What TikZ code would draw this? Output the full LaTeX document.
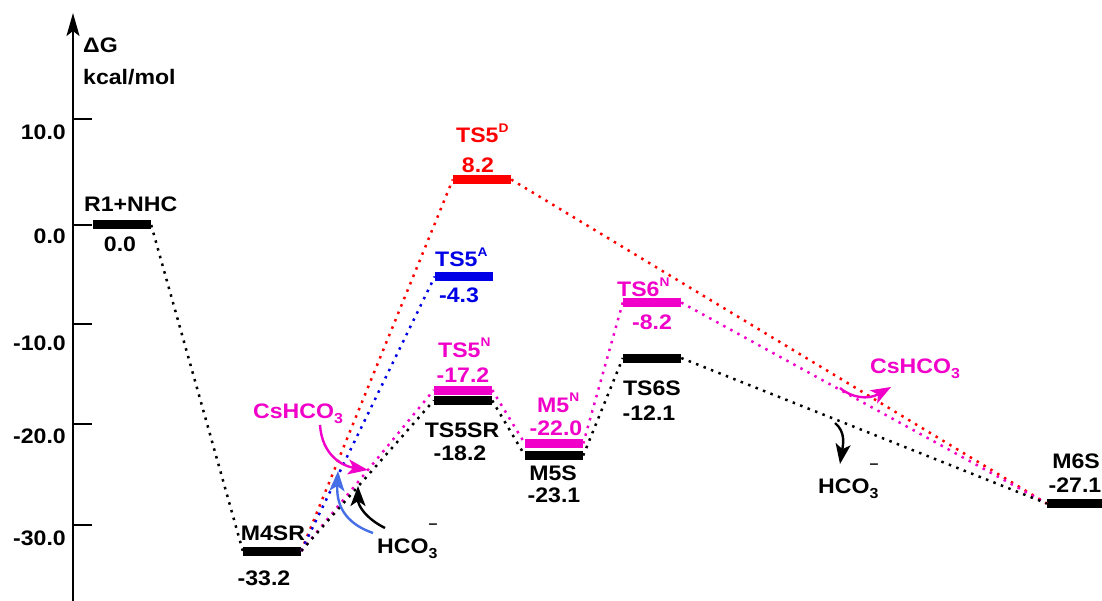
\documentclass[tikz,border=0pt]{standalone}
\usepackage{fontspec}
\setmainfont{Liberation Sans}[FakeStretch=1.1]
\usetikzlibrary{arrows.meta}
\definecolor{cred}{RGB}{255,0,0}
\definecolor{cpink}{RGB}{240,0,200}
\definecolor{cblue}{RGB}{0,0,230}
\definecolor{clblue}{RGB}{70,110,230}
\newcommand\supx[1]{\raisebox{0.5em}{\fontsize{12.5}{12.5}\selectfont #1}}
\newcommand\subx[1]{\raisebox{-0.28em}{\fontsize{14.5}{14.5}\selectfont #1}}
\newcommand\anion{HCO\rlap{\subx{3}}\raisebox{1.15em}{\fontsize{14.5}{14.5}\selectfont –}}
\begin{document}
\begin{tikzpicture}[x=1pt,y=-1pt,
  font=\fontsize{21}{25}\selectfont\bfseries,
  bar/.style={fill, draw=none, inner sep=0pt, minimum width=58pt, minimum height=9pt},
  lbl/.style={inner sep=0pt, anchor=base},
  lblw/.style={inner sep=0pt, anchor=base west},
  dots/.style={line width=2.5pt, dash pattern=on 2.5pt off 5.5pt},
  curv/.style={line width=2.4pt, -{Stealth[length=20pt,width=15pt,inset=5pt]}},
  axisline/.style={line width=2.2pt, -{Stealth[length=23pt,width=13pt,inset=5pt]}},
  tickline/.style={line width=2pt}]
\useasboundingbox (0,0) rectangle (1102,601);

% axis
\coordinate (axb) at (73,601);
\coordinate (axt) at (73,13);
\draw[axisline] (axb) -- (axt);
\foreach \yy/\lab/\ly in {119/10.0/140, 225/0.0/244, 324/-10.0/350, 424/-20.0/443, 525/-30.0/545}{
  \coordinate (ta\yy) at (73,\yy);
  \coordinate (tb\yy) at (92,\yy);
  \draw[tickline] (ta\yy) -- (tb\yy);
  \node[inner sep=0pt, anchor=base east] (tl\yy) at (66,\ly) {\lab};
}
\node[lblw] (dg) at (83,53) {ΔG};
\node[lblw] (unit) at (83,85) {kcal/mol};

% bars
\node[bar] (r1) at (122,225) {};
\node[bar] (m4sr) at (272,551) {};
\node[bar, fill=cred] (ts5d) at (482,179.5) {};
\node[bar, fill=cblue] (ts5a) at (464,276.5) {};
\node[bar, fill=cpink] (ts5n) at (463,390) {};
\node[bar] (ts5sr) at (463,400.5) {};
\node[bar, fill=cpink] (m5n) at (554,443.5) {};
\node[bar] (m5s) at (554,455.5) {};
\node[bar, fill=cpink] (ts6n) at (652,302.5) {};
\node[bar] (ts6s) at (652,358) {};
\node[bar] (m6s) at (1076,503.5) {};

% labels
\node[lblw] (lr1) at (84,212) {R1+NHC};
\node[lbl] (vr1) at (120,252) {0.0};
\node[lbl] (lm4) at (273,540) {M4SR};
\node[lbl] (vm4) at (264,585) {-33.2};
\node[lblw, text=cred] (lts5d) at (456,143) {TS5\supx{D}};
\node[lbl, text=cred] (vts5d) at (478,173) {8.2};
\node[lblw, text=cblue] (lts5a) at (435,267) {TS5\supx{A}};
\node[lbl, text=cblue] (vts5a) at (459,303) {-4.3};
\node[lblw, text=cpink] (lts5n) at (438,357) {TS5\supx{N}};
\node[lbl, text=cpink] (vts5n) at (463,382) {-17.2};
\node[lbl] (lts5sr) at (462,437) {TS5SR};
\node[lbl] (vts5sr) at (460,460) {-18.2};
\node[lblw, text=cpink] (lm5n) at (537,412) {M5\supx{N}};
\node[lbl, text=cpink] (vm5n) at (556,435) {-22.0};
\node[lbl] (lm5s) at (553,480) {M5S};
\node[lbl] (vm5s) at (554,502) {-23.1};
\node[lblw, text=cpink] (lts6n) at (617,297) {TS6\supx{N}};
\node[lbl, text=cpink] (vts6n) at (652,329) {-8.2};
\node[lbl] (lts6s) at (652,395) {TS6S};
\node[lbl] (vts6s) at (649,420) {-12.1};
\node[lbl] (lm6s) at (1076,468) {M6S};
\node[lbl] (vm6s) at (1075,492) {-27.1};

% connectors
\draw[dots] (r1.east) -- (m4sr.west);
\draw[dots, cred] (m4sr.east) -- (ts5d.west);
\draw[dots, cblue] (m4sr.east) -- (ts5a.west);
\draw[dots, cpink] (m4sr.east) -- (ts5n.west);
\draw[dots] (m4sr.east) -- (ts5sr.west);
\draw[dots, cred] (ts5d.east) -- (m6s.west);
\draw[dots, cpink] (ts5n.east) -- (m5n.west);
\draw[dots, cpink] (m5n.east) -- (ts6n.west);
\draw[dots, cpink] (ts6n.east) -- (m6s.west);
\draw[dots] (ts5sr.east) -- (m5s.west);
\draw[dots] (m5s.east) -- (ts6s.west);
\draw[dots] (ts6s.east) -- (m6s.west);

% additive labels and curved arrows
\node[lblw, text=cpink] (cs1) at (253,418) {CsHCO\subx{3}};
\node[lblw] (hc1) at (377,553) {\anion};
\node[lblw, text=cpink] (cs2) at (870,373) {CsHCO\subx{3}};
\node[lblw] (hc2) at (818,493) {\anion};

\coordinate (a1s) at (320,425);
\coordinate (a1e) at (368,470);
\draw[curv, cpink] (a1s) .. controls (322,455) and (342,466) .. (a1e);
\coordinate (a2s) at (373,533);
\coordinate (a2e) at (338,471);
\draw[curv, clblue] (a2s) .. controls (350,525) and (336,510) .. (a2e);
\coordinate (a3s) at (385,528);
\coordinate (a3e) at (358,486);
\draw[curv] (a3s) .. controls (365,518) and (358,505) .. (a3e);
\coordinate (a4s) at (840,388);
\coordinate (a4e) at (891,387);
\draw[curv, cpink] (a4s) .. controls (852,398) and (868,400) .. (a4e);
\coordinate (a5s) at (835,423);
\coordinate (a5e) at (840,464);
\draw[curv] (a5s) .. controls (846,432) and (843,445) .. (a5e);
\end{tikzpicture}
\end{document}
